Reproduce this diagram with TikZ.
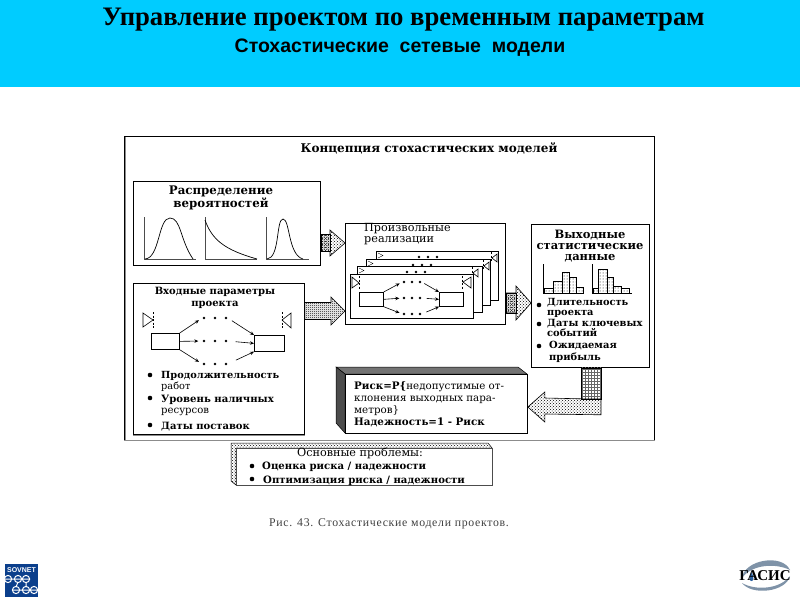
\documentclass[tikz,border=0pt]{standalone}
\usepackage{fontspec}
\setmainfont{DejaVu Serif}
\newfontfamily\titlefont{Liberation Serif}
\newfontfamily\subfont{Liberation Sans}
\newfontfamily\capfont{Liberation Serif}[LetterSpace=6]
\usetikzlibrary{calc,patterns,arrows.meta}
\definecolor{banner}{HTML}{00CCFF}
\definecolor{sovblue}{HTML}{0B3F8C}
\definecolor{gasgray}{HTML}{7F93A8}
\definecolor{gasblue}{HTML}{2A5F9E}
\pgfdeclarepatternformonly{checker}{\pgfqpoint{0pt}{0pt}}{\pgfqpoint{2pt}{2pt}}{\pgfqpoint{2pt}{2pt}}{%
  \pgfpathrectangle{\pgfqpoint{0pt}{0pt}}{\pgfqpoint{1pt}{1pt}}%
  \pgfpathrectangle{\pgfqpoint{1pt}{1pt}}{\pgfqpoint{1pt}{1pt}}%
  \pgfusepath{fill}}
\newcommand\fs[2]{\fontsize{#1}{#2}\selectfont}
% horizontal block arrow: start, tip, head length, shaft half, head half, style
\newcommand\blockarrow[6]{%
  \path[#6] ($(#1)+(0,-#4)$) -- ($(#2)+(-#3,-#4)$) -- ($(#2)+(-#3,-#5)$) -- (#2)
    -- ($(#2)+(-#3,#5)$) -- ($(#2)+(-#3,#4)$) -- ($(#1)+(0,#4)$) -- cycle;}
\newcommand\dotrow[4]{%
  \node[inner sep=0,minimum width=2*#4+3,minimum height=3] (#1) at (#2,#3) {};
  \foreach \k in {-1,0,1} \fill ($(#1)+(\k*#4,0)$) circle (1.4);}
\newcommand\bul[2]{\fill (#1,#2) circle (2.3);}
\tikzset{
  panel/.style={draw=black,fill=white,line width=.8pt,inner sep=0,anchor=north west},
  activity/.style={draw=black,fill=white,line width=.7pt,inner sep=0,anchor=north west},
  card/.style={draw=black,fill=white,line width=.8pt},
  lbl/.style={inner sep=0,align=left,anchor=north west,text=black},
  clbl/.style={inner sep=0,align=center,anchor=north,text=black},
  netarrow/.style={-{Stealth[length=4pt,width=3.5pt]},line width=.6pt},
  milestone/.style={draw=black,fill=white,line width=.6pt},
  mileline/.style={dashed,dash pattern=on 2pt off 1.5pt,line width=.6pt},
  axis/.style={draw=black!70,line width=.8pt},
  curve/.style={draw=black,line width=.7pt},
  flow/.style={draw=black,line width=.6pt,pattern=crosshatch dots,pattern color=black},
  flowdark/.style={draw=black,line width=.6pt,pattern=checker,pattern color=black},
  flowgrid/.style={draw=black,line width=.6pt,pattern=grid,pattern color=black!60},
  bar/.style={draw=black,line width=.5pt,pattern=dots,pattern color=black},
}
\begin{document}
\begin{tikzpicture}[x=1pt,y=-1pt]
\useasboundingbox (0,0) rectangle (800,600);
\fill[white] (0,0) rectangle (800,600);
\fill[banner] (0,0) rectangle (800,87);
\node[inner sep=0,font=\titlefont\bfseries\fs{26.7}{28}] (title) at (403.5,20) {Управление проектом по временным параметрам};
\node[inner sep=0,font=\subfont\bfseries\fs{19.5}{21}] (subtitle) at (400,47.5) {Стохастические\ \ сетевые\ \ модели};

% outer frame
\node[draw=black,fill=white,line width=.8pt,inner sep=0,anchor=north west,minimum width=530,minimum height=304] (frame) at (124,136) {};
\draw[black!45,line width=1.2pt] (frame.south west) -- (frame.south east);
\draw[black!45,line width=1pt] ($(frame.north west)+(1.5,1)$) -- ($(frame.south west)+(1.5,0)$);
\node[clbl,font=\bfseries\fs{12}{13}] (ftitle) at (429,142.5) {Концепция стохастических моделей};

% distribution panel
\node[panel,minimum width=187,minimum height=84] (dist) at (133,181) {};
\node[clbl,font=\bfseries\fs{11.8}{13}] (distt) at (221,186) {Распределение\\вероятностей};
\draw[axis] (144.5,217) -- (144.5,259) -- (196,259);
\draw[curve] (145,259) .. controls (160,258) and (158,218) .. (170,218) .. controls (181,218) and (180,240) .. (193,259);
\draw[axis] (205,217) -- (205,259) -- (257,259);
\draw[curve] (205,220) .. controls (212,240) and (225,250) .. (257,259);
\draw[axis] (266,217) -- (266,259) -- (309,259);
\draw[curve] (267,259) .. controls (280,258) and (276,219) .. (283,219) .. controls (290,219) and (288,255) .. (303,259);

% input panel
\node[panel,minimum width=171,minimum height=151] (input) at (133,283) {};
\draw[black!45,line width=1pt] ($(input.south west)+(0,.8)$) -- ($(input.south east)+(0,.8)$);
\node[clbl,font=\bfseries\fs{10}{12}] (inputt) at (215,287) {Входные параметры\\проекта};
\draw[milestone] (143,313) -- (153,320) -- (143,327) -- cycle;
\draw[mileline] (153,312) -- (153,329);
\draw[milestone] (291,313) -- (282,320) -- (291,328) -- cycle;
\draw[mileline] (282,312) -- (282,329);
\node[activity,minimum width=28,minimum height=16] (ia) at (151,333) {};
\node[activity,minimum width=30,minimum height=16] (ib) at (254,335) {};
\dotrow{it}{215}{318}{11}
\dotrow{im}{215}{341}{11}
\dotrow{ib2}{215}{364}{11}
\draw[netarrow,shorten >=4pt] (ia.north east) -- (it.west);
\draw[netarrow,shorten >=4pt] (ia.east) -- (im.west);
\draw[netarrow,shorten >=4pt] (ia.south east) -- (ib2.west);
\draw[netarrow,shorten <=5pt] (it.east) -- (ib.north west);
\draw[netarrow,shorten <=8pt] (im.east) -- (ib.west);
\draw[netarrow,shorten <=9pt] (ib2.east) -- (ib.south west);
\bul{150}{375}\bul{150}{398}\bul{150}{425}
\node[lbl,font=\bfseries\fs{9.8}{11.5}] (il1) at (161,371) {Продолжительность\\\mdseries работ};
\node[lbl,font=\bfseries\fs{10.1}{11}] (il2) at (161,395) {Уровень наличных\\\mdseries ресурсов};
\node[lbl,font=\bfseries\fs{10}{11}] (il3) at (161,422.5) {Даты поставок};

% realisations panel
\node[panel,minimum width=160,minimum height=101] (real) at (345,223) {};
\node[lbl,font=\fs{11.2}{11}] (realt) at (364,223) {Произвольные\\реализации};
\foreach \nm/\xa/\ya/\xb/\yb/\dx/\rx in {c4/376/251/498/300/428/491,c3/366/259/490/305/422/483,c2/357/266/482/312/416/472}{
  \node[card,inner sep=0,anchor=north west,minimum width=\xb-\xa,minimum height=\yb-\ya] (\nm) at (\xa,\ya) {};
  \draw[milestone,line width=.4pt] (\xa+2,\ya+2) -- (\xa+7,\ya+4.5) -- (\xa+2,\ya+7);
  \dotrow{\nm d}{\dx}{\ya+6}{9}
  \draw[mileline] (\rx,\ya+1) -- (\rx,\ya+11);
  \draw[milestone,fill=none] (\rx+6,\ya+3) -- (\rx+1,\ya+7) -- (\rx+6,\ya+11) -- cycle;
}
\node[card,inner sep=0,anchor=north west,minimum width=123,minimum height=44] (c1) at (350,274) {};
\draw[milestone] (352,277) -- (359,283) -- (352,288) -- cycle;
\draw[mileline] (359,276) -- (359,290);
\draw[milestone] (471,277) -- (463,282) -- (471,288) -- cycle;
\draw[mileline] (462,276) -- (462,290);
\node[activity,minimum width=24,minimum height=14] (ra) at (359,292) {};
\node[activity,minimum width=24,minimum height=14] (rb) at (439,292) {};
\dotrow{rt}{412}{282}{8}
\dotrow{rm}{412}{298}{8}
\dotrow{rl}{412}{314}{8}
\draw[netarrow,shorten >=3pt] (ra.north east) -- (rt.west);
\draw[netarrow,shorten >=3pt] (ra.east) -- (rm.west);
\draw[netarrow,shorten >=3pt] (ra.south east) -- (rl.west);
\draw[netarrow,shorten <=3pt] (rt.east) -- (rb.north west);
\draw[netarrow,shorten <=5pt] (rm.east) -- (rb.west);
\draw[netarrow,shorten <=5pt] (rl.east) -- (rb.south west);

% output panel
\node[panel,minimum width=118,minimum height=143] (out) at (531,224) {};
\node[clbl,font=\bfseries\fs{11.5}{10.8}] (outt) at (590,230) {Выходные\\статистические\\данные};
\foreach \xa/\xb/\yt in {544/553/288,553/562/281,562/569/272,569/576/277,576/583/287}
  \draw[bar] (\xa,293) rectangle (\xb,\yt);
\draw[axis,draw=black] (543,264) -- (543,293) -- (584,293);
\foreach \xa/\xb/\yt in {593/598/288,598/607/269,607/613/277,613/621/286,621/629/288}
  \draw[bar] (\xa,293) rectangle (\xb,\yt);
\draw[axis,draw=black] (592,264) -- (592,293) -- (632,293);
\bul{539}{305}\bul{539}{324}\bul{539}{346}
\node[lbl,font=\bfseries\fs{9.8}{9.5}] (ol1) at (547,298.5) {Длительность\\проекта};
\node[lbl,font=\bfseries\fs{9.9}{10}] (ol2) at (547,319) {Даты ключевых\\событий};
\node[lbl,font=\bfseries\fs{9.9}{12}] (ol3) at (549,341) {Ожидаемая\\прибыль};

% risk box
\fill[black!55,draw=black,line width=.5pt] (336,367) -- (518,367) -- (527,374) -- (345,374) -- cycle;
\fill[black!70,draw=black,line width=.5pt] (336,367) -- (345,374) -- (345,433) -- (336,423) -- cycle;
\node[panel,minimum width=182,minimum height=59] (risk) at (345,374) {};
\node[lbl,font=\fs{10.3}{12}] (riskt) at (354,381) {\textbf{Риск=Р\{}недопустимые от-\\клонения выходных пара-\\метров\}\\\textbf{Надежность=1 - Риск}};

% problems box
\path[draw=black,line width=.5pt,pattern=crosshatch dots,pattern color=black] (231,443) -- (488,443) -- (492,448) -- (236,448) -- (236,485) -- (231,481) -- cycle;
\node[draw=black!70,fill=white,line width=.9pt,inner sep=0,anchor=north west,minimum width=256,minimum height=37] (prob) at (236,448) {};
\node[clbl,font=\fs{11.2}{12}] (probt) at (360,447.5) {Основные проблемы:};
\bul{252}{466}\bul{252}{479}
\node[lbl,font=\bfseries\fs{10.1}{11}] (p1) at (262,462) {Оценка риска / надежности};
\node[lbl,font=\bfseries\fs{10.1}{11}] (p2) at (263,475.5) {Оптимизация риска / надежности};

% block arrows
\coordinate (a1s) at (dist.east |- 0,243);
\coordinate (a1e) at (real.west |- 0,243);
\blockarrow{a1s}{a1e}{15}{8.5}{13}{flow}
\path[flowdark] ($(a1s)+(0,-8.5)$) rectangle ($(a1e)+(-15,8.5)$);
\coordinate (a2s) at (input.east |- 0,311);
\coordinate (a2e) at (real.west |- 0,311);
\blockarrow{a2s}{a2e}{14}{8.5}{14}{flowdark}
\coordinate (a3s) at (real.east |- 0,303);
\coordinate (a3e) at (out.west |- 0,303);
\blockarrow{a3s}{a3e}{15}{10}{17}{flow}
\path[flowdark] ($(a3s)+(0,-10)$) rectangle ($(a3e)+(-15,10)$);
% elbow arrow from output panel to risk box
\coordinate (a4s) at (out.south -| 591,0);
\coordinate (a4e) at (risk.east |- 0,407);
\path[flowgrid] ($(a4s)+(-10,0)$) rectangle ($(a4s)+(10,31)$);
\path[flow] ($(a4s)+(10,31)$) -- ($(a4s)+(10,47)$) -- ($(a4e)+(17,7)$) -- ($(a4e)+(17,15)$) -- (a4e)
  -- ($(a4e)+(17,-15)$) -- ($(a4e)+(17,-9)$) -- ($(a4s)+(-10,31)$) -- cycle;

% caption
\node[inner sep=0,font=\capfont\fs{11.8}{13},text=black!75] (cap) at (389,523.5) {Рис. 43. Стохастические модели проектов.};

% SOVNET logo
\node[fill=sovblue,inner sep=0,anchor=north west,minimum width=33,minimum height=33] (sov) at (5,564) {};
\node[inner sep=0,text=white,font=\subfont\bfseries\fs{7}{8}] (sovt) at (21.5,570.5) {SOVNET};
\begin{scope}
\clip (sov.south west) rectangle (sov.north east);
\foreach \cx/\cy in {8/579,18/579,26/579,16/590,26/590,34/590}
  \draw[white,line width=1pt] (\cx,\cy) circle (3.6);
\draw[white,line width=1pt] (5,579) -- (30,579) (12,590) -- (38,590) (18,582) -- (16,587) (26,582) -- (26,587);
\end{scope}

% GASIS logo
\path[fill=gasgray] (742,578) .. controls (744,560) and (782,553) .. (790,570) .. controls (776,563) and (752,564) .. (742,578) -- cycle;
\path[fill=gasgray] (790,576) .. controls (786,592) and (752,596) .. (742,583) .. controls (756,591) and (780,589) .. (790,576) -- cycle;
\fill[gasblue] (751.5,572) .. controls (754,577) and (754,581) .. (751.5,581) .. controls (749,581) and (749,577) .. (751.5,572) -- cycle;
\node[inner sep=0,font=\titlefont\bfseries\fs{15}{16}] (gas) at (765,575.5) {ГАСИС};
\end{tikzpicture}
\end{document}
